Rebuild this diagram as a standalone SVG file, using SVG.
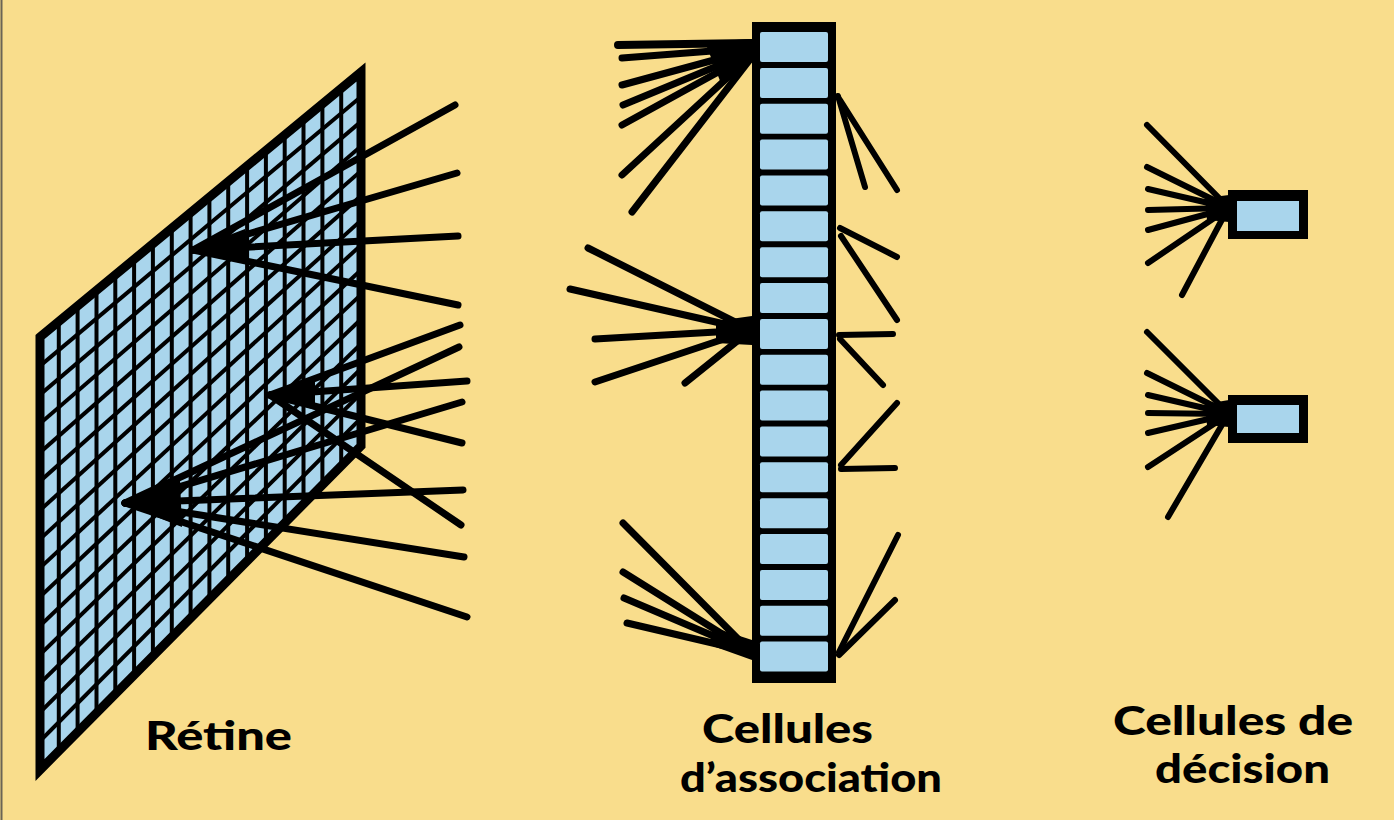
<svg xmlns="http://www.w3.org/2000/svg" width="1394" height="820" viewBox="0 0 1394 820">
<style>
  .bg{fill:#F9DD8C}
  .blue{fill:#A9D5EC}
  .grid{stroke:#000;stroke-width:4;fill:none}
  .fan{stroke:#000;stroke-width:7;stroke-linecap:round;fill:none}
  .fan6{stroke:#000;stroke-width:6;stroke-linecap:round;fill:none}
  .wedge{fill:#000}
  .lbl{font-family:Lato,"Open Sans","Liberation Sans",sans-serif;font-weight:900;font-size:40px;fill:#000}
</style>
<defs>
  <clipPath id="retClip"><polygon points="40,337 361,72 361,446 40,770"/></clipPath>
</defs>
<rect class="bg" x="0" y="0" width="1394" height="820"/>
<line x1="1.5" y1="0" x2="1.5" y2="820" stroke="#6b6455" stroke-width="2"/>

<g id="retine">
  <polygon class="blue" points="40,337 361,72 361,446 40,770"/>
  <g clip-path="url(#retClip)" class="grid">
    <line x1="58.8" y1="60" x2="58.8" y2="790"/>
    <line x1="77.6" y1="60" x2="77.6" y2="790"/>
    <line x1="96.5" y1="60" x2="96.5" y2="790"/>
    <line x1="115.3" y1="60" x2="115.3" y2="790"/>
    <line x1="134.1" y1="60" x2="134.1" y2="790"/>
    <line x1="152.9" y1="60" x2="152.9" y2="790"/>
    <line x1="171.8" y1="60" x2="171.8" y2="790"/>
    <line x1="190.6" y1="60" x2="190.6" y2="790"/>
    <line x1="209.4" y1="60" x2="209.4" y2="790"/>
    <line x1="228.2" y1="60" x2="228.2" y2="790"/>
    <line x1="247.1" y1="60" x2="247.1" y2="790"/>
    <line x1="265.9" y1="60" x2="265.9" y2="790"/>
    <line x1="284.7" y1="60" x2="284.7" y2="790"/>
    <line x1="303.5" y1="60" x2="303.5" y2="790"/>
    <line x1="322.4" y1="60" x2="322.4" y2="790"/>
    <line x1="341.2" y1="60" x2="341.2" y2="790"/>
    <line x1="40" y1="365.9" x2="361" y2="96.7"/>
    <line x1="40" y1="394.7" x2="361" y2="121.5"/>
    <line x1="40" y1="423.6" x2="361" y2="146.2"/>
    <line x1="40" y1="452.5" x2="361" y2="170.9"/>
    <line x1="40" y1="481.3" x2="361" y2="195.7"/>
    <line x1="40" y1="510.2" x2="361" y2="220.4"/>
    <line x1="40" y1="539.1" x2="361" y2="245.1"/>
    <line x1="40" y1="567.9" x2="361" y2="269.9"/>
    <line x1="40" y1="596.8" x2="361" y2="294.6"/>
    <line x1="40" y1="625.7" x2="361" y2="319.3"/>
    <line x1="40" y1="654.5" x2="361" y2="344.0"/>
    <line x1="40" y1="683.4" x2="361" y2="368.8"/>
    <line x1="40" y1="712.3" x2="361" y2="393.5"/>
    <line x1="40" y1="741.1" x2="361" y2="418.2"/>
  </g>
  <polygon points="40,337 361,72 361,446 40,770" fill="none" stroke="#000" stroke-width="9"/>
</g>

<g id="association">
  <rect x="752" y="22" width="84" height="661" fill="#000"/>
  <g class="blue">
    <rect x="760" y="32" width="68" height="30" rx="2"/>
    <rect x="760" y="67.9" width="68" height="30" rx="2"/>
    <rect x="760" y="103.7" width="68" height="30" rx="2"/>
    <rect x="760" y="139.6" width="68" height="30" rx="2"/>
    <rect x="760" y="175.4" width="68" height="30" rx="2"/>
    <rect x="760" y="211.3" width="68" height="30" rx="2"/>
    <rect x="760" y="247.2" width="68" height="30" rx="2"/>
    <rect x="760" y="283" width="68" height="30" rx="2"/>
    <rect x="760" y="318.9" width="68" height="30" rx="2"/>
    <rect x="760" y="354.7" width="68" height="30" rx="2"/>
    <rect x="760" y="390.6" width="68" height="30" rx="2"/>
    <rect x="760" y="426.5" width="68" height="30" rx="2"/>
    <rect x="760" y="462.3" width="68" height="30" rx="2"/>
    <rect x="760" y="498.2" width="68" height="30" rx="2"/>
    <rect x="760" y="534" width="68" height="30" rx="2"/>
    <rect x="760" y="569.9" width="68" height="30" rx="2"/>
    <rect x="760" y="605.8" width="68" height="30" rx="2"/>
    <rect x="760" y="641.6" width="68" height="30" rx="2"/>
  </g>
</g>

<g id="decision-1">
  <rect x="1228" y="190" width="80" height="49" fill="#000"/>
  <rect class="blue" x="1237" y="201" width="62" height="30"/>
</g>
<g id="decision-2">
  <rect x="1228" y="395" width="80" height="48" fill="#000"/>
  <rect class="blue" x="1237" y="405" width="62" height="28"/>
</g>

<g id="connectors">
  <!-- retina fan 1 -->
  <g class="fan">
    <line x1="193" y1="250" x2="455" y2="105"/>
    <line x1="193" y1="250" x2="457" y2="173"/>
    <line x1="193" y1="250" x2="458" y2="236"/>
    <line x1="193" y1="250" x2="458" y2="305"/>
  </g>
  <polygon class="wedge" points="190,250 245,229 248,262"/>
  <!-- retina fan 2 -->
  <g class="fan">
    <line x1="270" y1="395" x2="460" y2="325"/>
    <line x1="270" y1="395" x2="467" y2="381"/>
    <line x1="270" y1="395" x2="462" y2="443"/>
    <line x1="270" y1="395" x2="461" y2="525"/>
  </g>
  <polygon class="wedge" points="267,394 315,381 315,410"/>
  <!-- retina fan 3 -->
  <g class="fan">
    <line x1="125" y1="503" x2="459" y2="347"/>
    <line x1="125" y1="503" x2="462" y2="402"/>
    <line x1="125" y1="503" x2="463" y2="490"/>
    <line x1="125" y1="503" x2="464" y2="557"/>
    <line x1="125" y1="503" x2="467" y2="617"/>
  </g>
  <polygon class="wedge" points="121,503 180,480 182,527"/>

  <!-- association fans (left) -->
  <g class="fan">
    <line x1="618" y1="45" x2="751" y2="43" stroke-width="8"/>
    <line x1="622" y1="58" x2="751" y2="48"/>
    <line x1="622" y1="85" x2="751" y2="50"/>
    <line x1="623" y1="105" x2="751" y2="52"/>
    <line x1="622" y1="125" x2="751" y2="54"/>
    <line x1="622" y1="175" x2="751" y2="56"/>
    <line x1="632" y1="212" x2="751" y2="58"/>
  </g>
  <polygon class="wedge" points="705,42 752,39 752,62 722,86"/>
  <g class="fan">
    <line x1="588" y1="248" x2="751" y2="330"/>
    <line x1="570" y1="289" x2="751" y2="330"/>
    <line x1="595" y1="339" x2="751" y2="330"/>
    <line x1="595" y1="382" x2="751" y2="330"/>
    <line x1="685" y1="383" x2="751" y2="330"/>
  </g>
  <polygon class="wedge" points="716,321 752,316 752,345 716,343"/>
  <g class="fan">
    <line x1="623" y1="523" x2="751" y2="652"/>
    <line x1="623" y1="572" x2="751" y2="652"/>
    <line x1="624" y1="598" x2="751" y2="652"/>
    <line x1="627" y1="623" x2="751" y2="652"/>
  </g>
  <polygon class="wedge" points="712,627 752,640 752,660 710,645"/>

  <!-- association outputs (right) -->
  <g class="fan6">
    <line x1="838" y1="96" x2="865" y2="187"/>
    <line x1="840" y1="100" x2="897" y2="190"/>
    <line x1="840" y1="228" x2="897" y2="257"/>
    <line x1="841" y1="236" x2="897" y2="320"/>
    <line x1="839" y1="335" x2="893" y2="334"/>
    <line x1="840" y1="339" x2="883" y2="385"/>
    <line x1="897" y1="403" x2="841" y2="465"/>
    <line x1="841" y1="469" x2="895" y2="468"/>
    <line x1="839" y1="652" x2="898" y2="535"/>
    <line x1="839" y1="655" x2="895" y2="600"/>
  </g>

  <!-- decision fans -->
  <g class="fan6">
    <line x1="1147" y1="125" x2="1226" y2="205"/>
    <line x1="1147" y1="167" x2="1226" y2="206"/>
    <line x1="1148" y1="189" x2="1226" y2="207"/>
    <line x1="1148" y1="210" x2="1226" y2="208"/>
    <line x1="1148" y1="230" x2="1226" y2="209"/>
    <line x1="1148" y1="263" x2="1226" y2="210"/>
    <line x1="1182" y1="295" x2="1226" y2="212"/>
  </g>
  <polygon class="wedge" points="1205,198 1229,195 1229,222 1207,220"/>
  <g class="fan6">
    <line x1="1147" y1="332" x2="1226" y2="411"/>
    <line x1="1147" y1="373" x2="1226" y2="412"/>
    <line x1="1148" y1="395" x2="1226" y2="413"/>
    <line x1="1148" y1="413" x2="1226" y2="414"/>
    <line x1="1148" y1="433" x2="1226" y2="415"/>
    <line x1="1148" y1="467" x2="1226" y2="416"/>
    <line x1="1168" y1="517" x2="1226" y2="418"/>
  </g>
  <polygon class="wedge" points="1205,404 1229,400 1229,427 1207,425"/>
</g>

<g id="labels">
  <text class="lbl" x="145" y="750" textLength="147" lengthAdjust="spacingAndGlyphs">Rétine</text>
  <text class="lbl"><tspan x="702" y="743" textLength="171" lengthAdjust="spacingAndGlyphs">Cellules</tspan><tspan x="680" y="792" textLength="262" lengthAdjust="spacingAndGlyphs">d’association</tspan></text>
  <text class="lbl"><tspan x="1113" y="735" textLength="240" lengthAdjust="spacingAndGlyphs">Cellules de</tspan><tspan x="1155" y="783" textLength="175" lengthAdjust="spacingAndGlyphs">décision</tspan></text>
</g>
</svg>
